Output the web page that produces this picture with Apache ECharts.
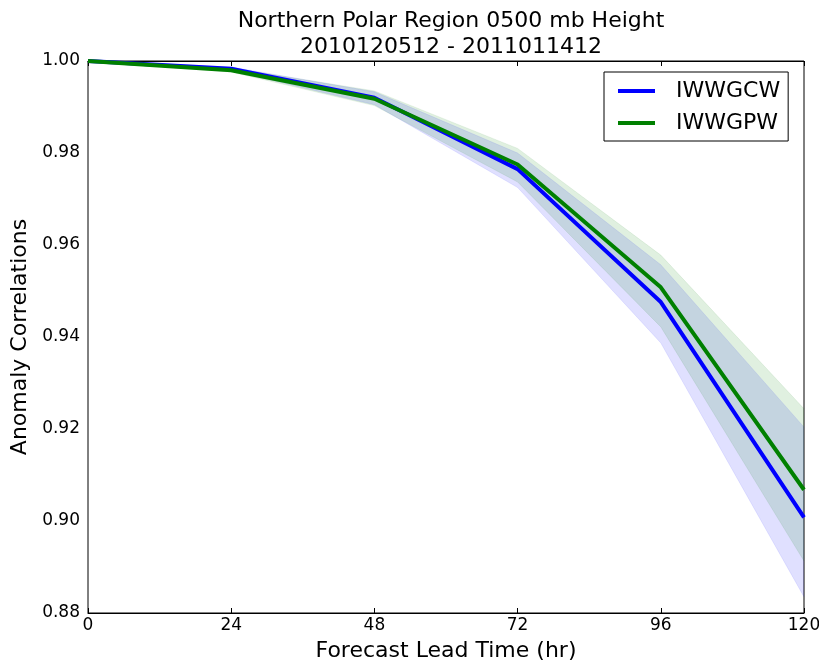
<!DOCTYPE html>
<html>
<head>
<meta charset="utf-8">
<script src="https://cdn.jsdelivr.net/npm/echarts@6/dist/echarts.min.js"></script>
<style>html,body{margin:0;padding:0;background:#fff;}#c{width:819px;height:663px;}</style>
</head>
<body>
<div id="c"></div>
<script>
const hours = [0, 24, 48, 72, 96, 120];
const yTicks = [0.88, 0.90, 0.92, 0.94, 0.96, 0.98, 1.00];
const gcwMean  = [1.000, 0.9983, 0.9920, 0.9765, 0.9476, 0.9008];
const gcwLower = [1.000, 0.9979, 0.9905, 0.9725, 0.9387, 0.8835];
const gcwUpper = [1.000, 0.9987, 0.9933, 0.9800, 0.9557, 0.9204];
const gpwMean  = [1.000, 0.9980, 0.9918, 0.9775, 0.9508, 0.9068];
const gpwLower = [1.000, 0.9976, 0.9903, 0.9737, 0.9422, 0.8913];
const gpwUpper = [1.000, 0.9985, 0.9935, 0.9810, 0.9578, 0.9244];
const titleText = 'Northern Polar Region 0500 mb Height\n2010120512 - 2011011412';

const font = 'DejaVu Sans';
const diffs = (up, lo) => up.map((u, i) => +(u - lo[i]).toFixed(6));

function band(name, lo, up, fill, edge) {
  return [
    { name: name + '_lo', type: 'line', stack: name, data: lo.slice(), symbol: 'none',
      lineStyle: { width: 0.8, color: edge }, silent: true, z: 1 },
    { name: name + '_band', type: 'line', stack: name, data: diffs(up, lo), symbol: 'none',
      lineStyle: { width: 0.8, color: edge }, areaStyle: { color: fill, opacity: 1 }, silent: true, z: 1 }
  ];
}

const tickStyle = { inside: true, length: 5, lineStyle: { color: '#000' } };

const chart = echarts.init(document.getElementById('c'), null, { renderer: 'canvas' });
chart.setOption({
  animation: false,
  backgroundColor: '#fff',
  textStyle: { fontFamily: font },
  title: {
    text: titleText, left: 446, textAlign: 'center', top: 3,
    textStyle: { fontFamily: font, fontSize: 22, fontWeight: 'normal', color: '#000', lineHeight: 26 }
  },
  legend: {
    data: ['IWWGCW', 'IWWGPW'], orient: 'vertical', left: 604, top: 72,
    borderColor: '#000', borderWidth: 1, padding: [7, 8, 6, 14],
    itemWidth: 37, itemHeight: 4, itemGap: 8, icon: 'rect',
    textStyle: { fontFamily: font, fontSize: 22, color: '#000', padding: [0, 0, 0, 16], lineHeight: 24 }
  },
  grid: { left: 88, right: 15, top: 61, bottom: 50, show: true, borderColor: '#000', borderWidth: 1,
    outerBoundsMode: 'none', containLabel: false },
  xAxis: [{
    type: 'category', data: hours, boundaryGap: false,
    name: 'Forecast Lead Time (hr)', nameLocation: 'middle', nameGap: 27,
    nameTextStyle: { fontFamily: font, fontSize: 22, color: '#000' },
    axisLine: { lineStyle: { color: '#000' } },
    axisTick: tickStyle,
    axisLabel: { fontFamily: font, fontSize: 17, color: '#000', margin: 4 },
    splitLine: { show: false }
  }, {
    type: 'category', data: hours, boundaryGap: false, position: 'top',
    axisLine: { lineStyle: { color: '#000' } },
    axisTick: tickStyle,
    axisLabel: { show: false }, splitLine: { show: false }
  }],
  yAxis: [{
    type: 'value', min: yTicks[0], max: yTicks[yTicks.length - 1], interval: 0.02,
    name: 'Anomaly Correlations', nameLocation: 'middle', nameGap: 57,
    nameTextStyle: { fontFamily: font, fontSize: 22, color: '#000' },
    axisLine: { lineStyle: { color: '#000' } },
    axisTick: tickStyle,
    axisLabel: { fontFamily: font, fontSize: 17, color: '#000', margin: 8,
      formatter: (v) => v.toFixed(2) },
    splitLine: { show: false }
  }, {
    type: 'value', min: yTicks[0], max: yTicks[yTicks.length - 1], interval: 0.02, position: 'right',
    axisLine: { lineStyle: { color: '#000' } },
    axisTick: tickStyle,
    axisLabel: { show: false }, splitLine: { show: false }
  }],
  series: [
    ...band('gcw', gcwLower, gcwUpper, 'rgba(0,0,255,0.12)', 'rgba(0,0,255,0.10)'),
    ...band('gpw', gpwLower, gpwUpper, 'rgba(0,128,0,0.12)', 'rgba(0,128,0,0.10)'),
    { name: 'IWWGCW', type: 'line', data: gcwMean, symbol: 'none',
      color: '#0000ff', lineStyle: { width: 4, color: '#0000ff' }, z: 3 },
    { name: 'IWWGPW', type: 'line', data: gpwMean, symbol: 'none',
      color: '#008000', lineStyle: { width: 4, color: '#008000' }, z: 4 }
  ]
});
</script>
</body>
</html>
